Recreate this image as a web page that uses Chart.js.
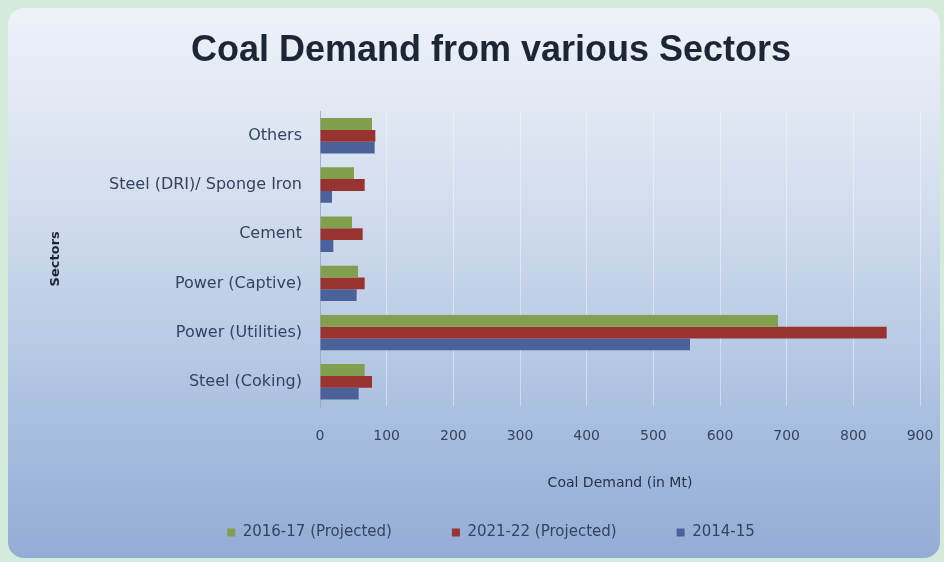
<!DOCTYPE html>
<html>
<head>
<meta charset="utf-8">
<script src="https://cdn.jsdelivr.net/npm/chart.js@4/dist/chart.umd.min.js"></script>
<style>
  html, body { margin: 0; padding: 0; }
  body { width: 944px; height: 562px; background: #d4eadb; overflow: hidden; position: relative; }
  #card {
    position: absolute; left: 8px; top: 8px; width: 932px; height: 550px;
    border-radius: 16px;
    background: linear-gradient(to bottom, #eef2f9 0%, #d3deee 35%, #a9bfe0 75%, #94acd6 100%);
  }
  #wrap { position: absolute; left: 0; top: 0; width: 944px; height: 562px; }
</style>
</head>
<body>
<div id="card"></div>
<div id="wrap"><canvas id="coalChart"></canvas></div>
<script>
// sectors, top to bottom as in the picture
const sectors = ['Others', 'Steel (DRI)/ Sponge Iron', 'Cement', 'Power (Captive)', 'Power (Utilities)', 'Steel (Coking)'];
const xTicks = [0, 100, 200, 300, 400, 500, 600, 700, 800, 900];

// coal demand, million tonnes
const demand2016 = [78, 51, 48, 57, 687, 67];
const demand2021 = [83, 67, 64, 67, 850, 78];
const demand2014 = [82, 18, 20, 55, 555, 58];

const seriesNames = ['2016-17 (Projected)', '2021-22 (Projected)', '2014-15'];

const labelFont = '"DejaVu Sans", sans-serif';

new Chart(document.getElementById('coalChart'), {
    type: 'bar',
    data: {
        labels: sectors,
        datasets: [
            { label: seriesNames[0], data: demand2016, backgroundColor: '#819f4d' },
            { label: seriesNames[1], data: demand2021, backgroundColor: '#993330' },
            { label: seriesNames[2], data: demand2014, backgroundColor: '#4a6299' }
        ]
    },
    options: {
        indexAxis: 'y',
        responsive: true,
        maintainAspectRatio: false,
        animation: false,
        datasets: { bar: { categoryPercentage: 0.72, barPercentage: 1.0 } },
        layout: { padding: { left: 40, right: 2, top: 0, bottom: 12 } },
        plugins: {
            title: {
                display: true,
                text: 'Coal Demand from various Sectors',
                color: '#1d2636',
                font: { family: '"Liberation Sans", sans-serif', size: 36, weight: 'bold' },
                padding: { top: 29, bottom: 39 }
            },
            legend: {
                position: 'bottom',
                labels: {
                    color: '#34445f',
                    font: { family: labelFont, size: 15 },
                    boxWidth: 8, boxHeight: 8,
                    padding: 60
                }
            },
            tooltip: { enabled: false }
        },
        scales: {
            x: {
                min: 0, max: 900,
                afterBuildTicks: (s) => { s.ticks = xTicks.map(v => ({ value: v })); },
                afterFit: (s) => { s.paddingRight = 24; },
                ticks: { color: '#34445f', font: { family: labelFont, size: 14 }, padding: 22 },
                grid: { color: 'rgba(255,255,255,0.4)', drawTicks: false },
                border: { display: false },
                title: {
                    display: true, text: 'Coal Demand (in Mt)', color: '#26334d',
                    font: { family: labelFont, size: 14 },
                    padding: { top: 8, bottom: -27 }
                }
            },
            y: {
                afterFit: (s) => { s.width = 280; },
                ticks: { color: '#34445f', font: { family: labelFont, size: 16 }, padding: 18 },
                grid: { display: false, drawTicks: false },
                border: { color: 'rgba(120,140,175,0.6)' },
                title: {
                    display: true, text: 'Sectors', color: '#1d2636',
                    font: { family: labelFont, size: 13, weight: 'bold' },
                    padding: { top: 8 }
                }
            }
        }
    }
});
</script>
</body>
</html>
